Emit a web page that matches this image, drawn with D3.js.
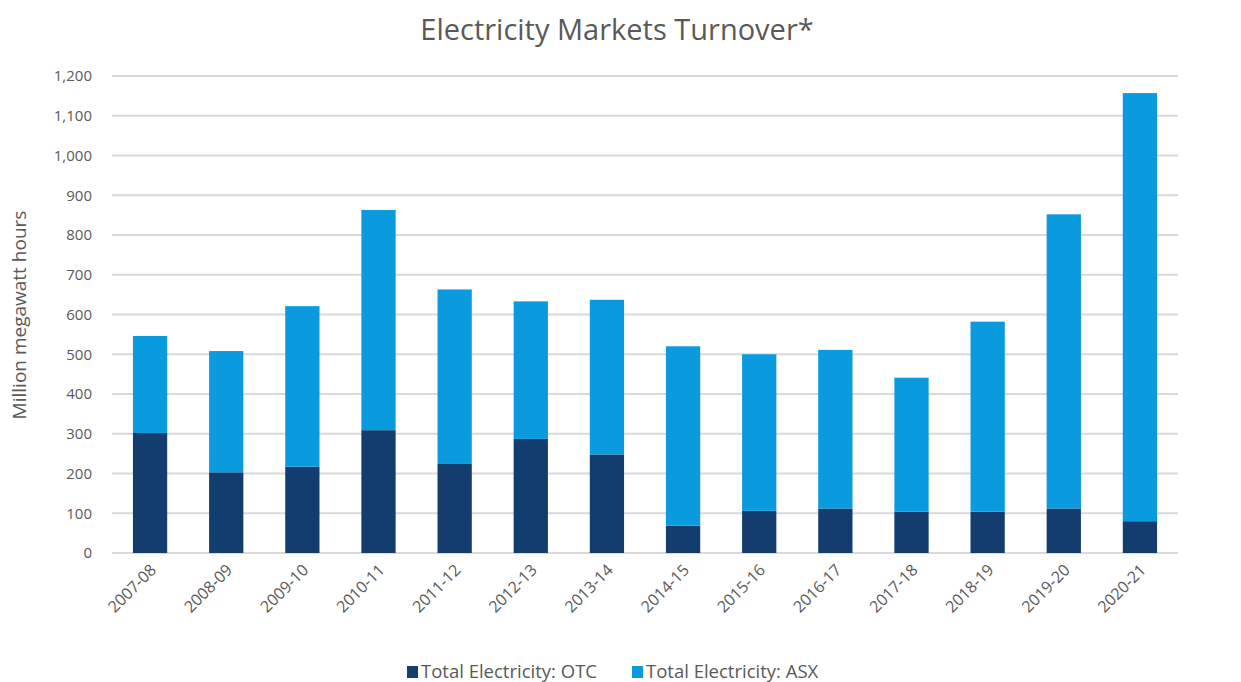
<!DOCTYPE html>
<meta charset="utf-8">
<head>
<style>
    body { margin: 0; background: #fff; }
    text { font-family: "Open Sans", "Liberation Sans", sans-serif; fill: #595959; }
    .grid line { stroke: #d9d9d9; stroke-width: 2px; }
</style>
</head>
<body>
<script src="https://d3js.org/d3.v7.min.js"></script>
<script>
    // values
    var years = ["2007-08", "2008-09", "2009-10", "2010-11", "2011-12", "2012-13", "2013-14",
        "2014-15", "2015-16", "2016-17", "2017-18", "2018-19", "2019-20", "2020-21"];
    var otc = [302, 203, 217, 309, 224, 287, 248, 69, 106, 112, 104, 104, 112, 80];
    var asx = [244, 305, 404, 554, 439, 346, 389, 451, 394, 399, 337, 478, 740, 1077];
    var seriesNames = ["Total Electricity: OTC", "Total Electricity: ASX"];
    var colors = ["#133d6e", "#0a9ade"];
    var yTicks = [0, 100, 200, 300, 400, 500, 600, 700, 800, 900, 1000, 1100, 1200];

    var W = 1241, H = 682;
    var plotLeft = 112, plotRight = 1178, plotTop = 76, plotBottom = 553;

    var svg = d3.select("body").append("svg")
        .attr("width", W)
        .attr("height", H);

    var x = d3.scaleBand()
        .domain(years)
        .range([plotLeft, plotRight])
        .paddingInner(0.55)
        .paddingOuter(0.275);

    var y = d3.scaleLinear()
        .domain([0, 1200])
        .range([plotBottom, plotTop]);

    // gridlines
    svg.append("g")
        .attr("class", "grid")
        .selectAll("line")
        .data(yTicks)
        .enter().append("line")
        .attr("x1", plotLeft)
        .attr("x2", plotRight)
        .attr("y1", function (d) { return y(d); })
        .attr("y2", function (d) { return y(d); });

    // y axis labels
    var yAxis = svg.append("g")
        .attr("transform", "translate(" + plotLeft + ",0)")
        .call(d3.axisLeft(y).tickValues(yTicks).tickSize(0).tickPadding(20).tickFormat(d3.format(",")));
    yAxis.select(".domain").remove();
    yAxis.selectAll("text").style("font-size", "15px").attr("fill", "#595959");

    // x axis labels
    var xAxis = svg.append("g")
        .attr("transform", "translate(0," + plotBottom + ")")
        .call(d3.axisBottom(x).tickSize(0));
    xAxis.select(".domain").remove();
    xAxis.selectAll("text")
        .style("font-size", "16px")
        .attr("fill", "#595959")
        .style("text-anchor", "end")
        .attr("dx", "0")
        .attr("dy", "0")
        .attr("transform", "translate(5,16) rotate(-45)");

    // stacked bars
    var data = years.map(function (yr, i) { return {year: yr, otc: otc[i], asx: asx[i]}; });
    var stack = d3.stack().keys(["otc", "asx"])(data);

    svg.selectAll(".series")
        .data(stack)
        .enter().append("g")
        .attr("fill", function (d, i) { return colors[i]; })
        .selectAll("rect")
        .data(function (d) { return d; })
        .enter().append("rect")
        .attr("x", function (d) { return x(d.data.year); })
        .attr("width", x.bandwidth())
        .attr("y", function (d) { return y(d[1]); })
        .attr("height", function (d) { return y(d[0]) - y(d[1]); });

    // title
    svg.append("text")
        .attr("x", 617)
        .attr("y", 40)
        .attr("text-anchor", "middle")
        .style("font-size", "29px")
        .text("Electricity Markets Turnover*");

    // y axis title
    svg.append("text")
        .attr("transform", "translate(26,315) rotate(-90)")
        .attr("text-anchor", "middle")
        .style("font-size", "19px")
        .text("Million megawatt hours");

    // legend
    var legendX = [407, 632];
    var legend = svg.selectAll(".legend")
        .data(seriesNames)
        .enter().append("g")
        .attr("transform", function (d, i) { return "translate(" + legendX[i] + ",666)"; });
    legend.append("rect")
        .attr("width", 11)
        .attr("height", 12)
        .attr("fill", function (d, i) { return colors[i]; });
    legend.append("text")
        .attr("x", 14)
        .attr("y", 12)
        .style("font-size", "18.5px")
        .text(function (d) { return d; });
</script>
</body>
